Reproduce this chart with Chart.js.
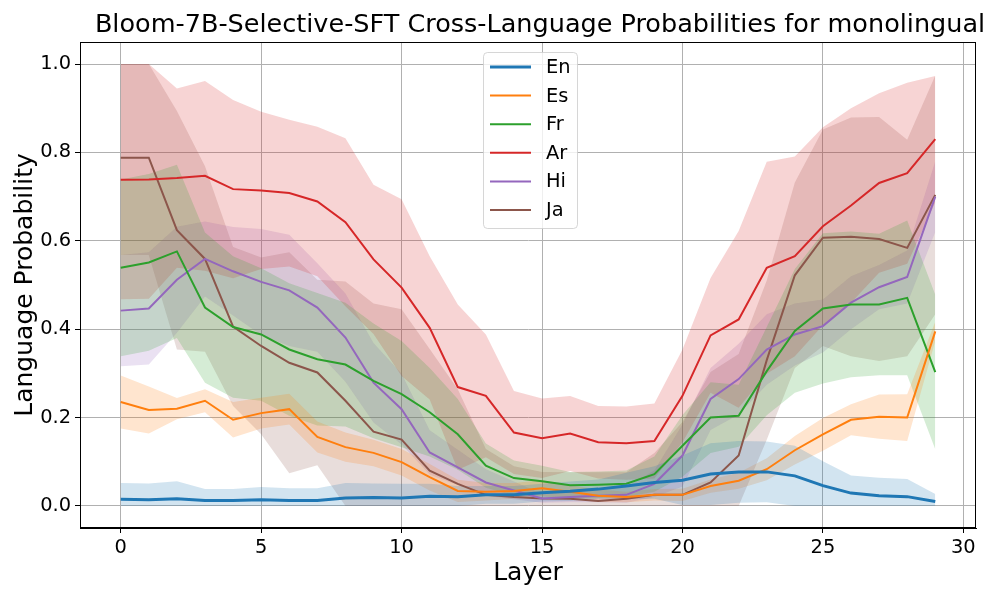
<!DOCTYPE html>
<html>
<head>
<meta charset="utf-8">
<script src="https://cdn.jsdelivr.net/npm/chart.js@4.4.1/dist/chart.umd.min.js"></script>
<style>
  html, body { margin: 0; padding: 0; background: #fff; }
  #chart { display: block; }
</style>
</head>
<body>
<canvas id="chart" width="996" height="598"></canvas>
<script>
const titleText = 'Bloom-7B-Selective-SFT Cross-Language Probabilities for monolingual'
const layers = [0, 1, 2, 3, 4, 5, 6, 7, 8, 9, 10, 11, 12, 13, 14, 15, 16, 17, 18, 19, 20, 21, 22, 23, 24, 25, 26, 27, 28, 29]
const xTicks = [0, 5, 10, 15, 20, 25, 30]
const yTicks = [0.0, 0.2, 0.4, 0.6, 0.8, 1.0]

// mean probability per layer, and the spread shown as the shaded band
const en = [0.015, 0.014, 0.016, 0.012, 0.012, 0.014, 0.012, 0.012, 0.018, 0.019, 0.018, 0.022, 0.021, 0.025, 0.025, 0.03, 0.033, 0.038, 0.045, 0.053, 0.058, 0.072, 0.077, 0.077, 0.068, 0.046, 0.029, 0.023, 0.021, 0.01]
const enSd = [0.037, 0.037, 0.04, 0.026, 0.026, 0.029, 0.028, 0.028, 0.034, 0.032, 0.032, 0.028, 0.024, 0.02, 0.02, 0.02, 0.022, 0.022, 0.03, 0.037, 0.056, 0.07, 0.07, 0.069, 0.068, 0.055, 0.04, 0.041, 0.04, 0.017]
const es = [0.235, 0.217, 0.22, 0.238, 0.195, 0.21, 0.219, 0.156, 0.133, 0.12, 0.099, 0.065, 0.034, 0.032, 0.034, 0.04, 0.032, 0.023, 0.02, 0.025, 0.025, 0.045, 0.057, 0.083, 0.126, 0.162, 0.195, 0.202, 0.2, 0.395]
const esSd = [0.06, 0.053, 0.024, 0.026, 0.04, 0.035, 0.035, 0.035, 0.033, 0.03, 0.03, 0.03, 0.025, 0.02, 0.018, 0.018, 0.015, 0.014, 0.012, 0.013, 0.014, 0.015, 0.018, 0.025, 0.032, 0.037, 0.035, 0.05, 0.053, 0.022]
const fr = [0.539, 0.551, 0.576, 0.449, 0.405, 0.388, 0.354, 0.332, 0.32, 0.283, 0.253, 0.212, 0.162, 0.091, 0.063, 0.056, 0.047, 0.048, 0.05, 0.072, 0.136, 0.2, 0.204, 0.305, 0.396, 0.447, 0.456, 0.456, 0.471, 0.303]
const frSd = [0.2, 0.2, 0.196, 0.17, 0.16, 0.15, 0.15, 0.15, 0.14, 0.13, 0.12, 0.1, 0.08, 0.05, 0.04, 0.035, 0.03, 0.03, 0.03, 0.04, 0.07, 0.08, 0.07, 0.1, 0.14, 0.17, 0.165, 0.16, 0.175, 0.175]
const ar = [0.738, 0.739, 0.742, 0.747, 0.717, 0.714, 0.708, 0.689, 0.642, 0.558, 0.494, 0.403, 0.269, 0.249, 0.166, 0.153, 0.164, 0.144, 0.142, 0.147, 0.249, 0.386, 0.422, 0.539, 0.565, 0.633, 0.68, 0.731, 0.753, 0.83]
const arSd = [0.27, 0.27, 0.203, 0.215, 0.202, 0.178, 0.166, 0.169, 0.19, 0.169, 0.2, 0.162, 0.187, 0.139, 0.094, 0.09, 0.085, 0.082, 0.083, 0.085, 0.105, 0.13, 0.2, 0.24, 0.226, 0.224, 0.22, 0.203, 0.205, 0.143]
const hi = [0.442, 0.447, 0.512, 0.559, 0.531, 0.507, 0.488, 0.449, 0.381, 0.279, 0.219, 0.121, 0.087, 0.053, 0.035, 0.017, 0.02, 0.023, 0.025, 0.05, 0.114, 0.242, 0.287, 0.354, 0.388, 0.407, 0.46, 0.495, 0.518, 0.7]
const hiSd = [0.126, 0.127, 0.12, 0.085, 0.1, 0.12, 0.126, 0.1, 0.1, 0.09, 0.08, 0.05, 0.04, 0.03, 0.02, 0.01, 0.012, 0.015, 0.018, 0.03, 0.07, 0.07, 0.08, 0.08, 0.07, 0.06, 0.06, 0.05, 0.06, 0.08]
const ja = [0.788, 0.788, 0.624, 0.559, 0.406, 0.362, 0.324, 0.302, 0.238, 0.168, 0.15, 0.08, 0.05, 0.025, 0.02, 0.017, 0.016, 0.011, 0.016, 0.025, 0.025, 0.053, 0.114, 0.33, 0.522, 0.607, 0.609, 0.604, 0.584, 0.704]
const jaSd = [0.22, 0.22, 0.27, 0.21, 0.18, 0.2, 0.25, 0.21, 0.27, 0.29, 0.295, 0.275, 0.214, 0.104, 0.07, 0.06, 0.06, 0.065, 0.06, 0.095, 0.165, 0.25, 0.23, 0.18, 0.21, 0.245, 0.27, 0.276, 0.245, 0.27]

const series = [
    {label: 'En', mean: en, sd: enSd, color: '31,119,180', width: 3},
    {label: 'Es', mean: es, sd: esSd, color: '255,127,14', width: 2},
    {label: 'Fr', mean: fr, sd: frSd, color: '44,160,44', width: 2},
    {label: 'Ar', mean: ar, sd: arSd, color: '214,39,40', width: 2},
    {label: 'Hi', mean: hi, sd: hiSd, color: '148,103,189', width: 2},
    {label: 'Ja', mean: ja, sd: jaSd, color: '140,86,75', width: 2},
]

const FONT = '"DejaVu Sans", sans-serif'

const toPoints = values => layers.map((x, i) => ({x: x, y: values[i]}))

const datasets = []
series.forEach(s => {
    const upper = s.mean.map((m, i) => Math.min(1, m + s.sd[i]))
    const lower = s.mean.map((m, i) => Math.max(0, m - s.sd[i]))
    datasets.push({
        label: s.label + ' band', isBand: true, data: toPoints(upper),
        borderWidth: 0, pointRadius: 0, fill: '+1', order: 2,
        backgroundColor: `rgba(${s.color},0.2)`, borderColor: 'transparent',
    })
    datasets.push({
        label: s.label + ' low', isBand: true, data: toPoints(lower),
        borderWidth: 0, pointRadius: 0, fill: false, order: 2,
        borderColor: 'transparent',
    })
})
series.forEach(s => {
    datasets.push({
        label: s.label, data: toPoints(s.mean),
        borderColor: `rgb(${s.color})`, borderWidth: s.width,
        pointRadius: 0, fill: false, order: 1, tension: 0,
    })
})

// matplotlib-like frame, title and inside legend
const framePlugin = {
    id: 'frame',
    afterDraw(chart) {
        const {ctx, chartArea} = chart
        ctx.save()
        ctx.strokeStyle = '#000'
        ctx.lineWidth = 1
        ctx.strokeRect(chartArea.left + 0.5, chartArea.top + 0.5, chartArea.right - chartArea.left - 1, chartArea.bottom - chartArea.top - 1)

        ctx.fillStyle = '#000'
        ctx.font = `25.5px ${FONT}`
        ctx.textAlign = 'center'
        ctx.textBaseline = 'middle'
        ctx.fillText(titleText, 540, 25)

        // legend
        const lines = chart.data.datasets.filter(d => !d.isBand)
        const bx = 483, by = 52, bw = 94, bh = 176, r = 4
        ctx.beginPath()
        ctx.roundRect(bx + 0.5, by + 0.5, bw, bh, r)
        ctx.fillStyle = 'rgba(255,255,255,0.8)'
        ctx.fill()
        ctx.strokeStyle = 'rgba(204,204,204,0.8)'
        ctx.stroke()
        ctx.font = `19.4px ${FONT}`
        ctx.textAlign = 'left'
        lines.forEach((d, i) => {
            const y = 67 + i * 28.6
            ctx.beginPath()
            ctx.strokeStyle = d.borderColor
            ctx.lineWidth = d.borderWidth
            ctx.moveTo(490, y)
            ctx.lineTo(531, y)
            ctx.stroke()
            ctx.fillStyle = '#000'
            ctx.fillText(d.label, 546, y + 1)
        })
        ctx.restore()
    }
}

new Chart(document.getElementById('chart'), {
    type: 'line',
    data: {datasets: datasets},
    options: {
        responsive: false,
        animation: false,
        devicePixelRatio: 1,
        layout: {padding: {top: 42, right: 20, left: 0, bottom: 0}},
        plugins: {
            legend: {display: false},
            title: {display: false},
            tooltip: {enabled: false},
            filler: {propagate: false},
        },
        scales: {
            x: {
                type: 'linear',
                min: -1.45,
                max: 30.45,
                afterFit: s => { s.height = 70 },
                afterBuildTicks: axis => { axis.ticks = xTicks.map(v => ({value: v})) },
                grid: {color: '#b0b0b0', lineWidth: 1, tickColor: '#000', tickLength: 5},
                border: {display: true, color: '#000', width: 1},
                ticks: {color: '#000', padding: 3, font: {family: FONT, size: 19.4}, maxRotation: 0},
                title: {display: true, text: 'Layer', color: '#000', font: {family: FONT, size: 25}, padding: {top: 0, bottom: 10}},
            },
            y: {
                type: 'linear',
                min: -0.05,
                max: 1.05,
                afterFit: s => { s.width = 80 },
                afterBuildTicks: axis => { axis.ticks = yTicks.map(v => ({value: v})) },
                grid: {color: '#b0b0b0', lineWidth: 1, tickColor: '#000', tickLength: 5},
                border: {display: true, color: '#000', width: 1},
                ticks: {color: '#000', padding: 4, font: {family: FONT, size: 19.4}, callback: v => v.toFixed(1)},
                title: {display: true, text: 'Language Probability', color: '#000', font: {family: FONT, size: 25}, padding: {top: 10, bottom: 0}},
            },
        },
    },
    plugins: [framePlugin],
})
</script>
</body>
</html>
